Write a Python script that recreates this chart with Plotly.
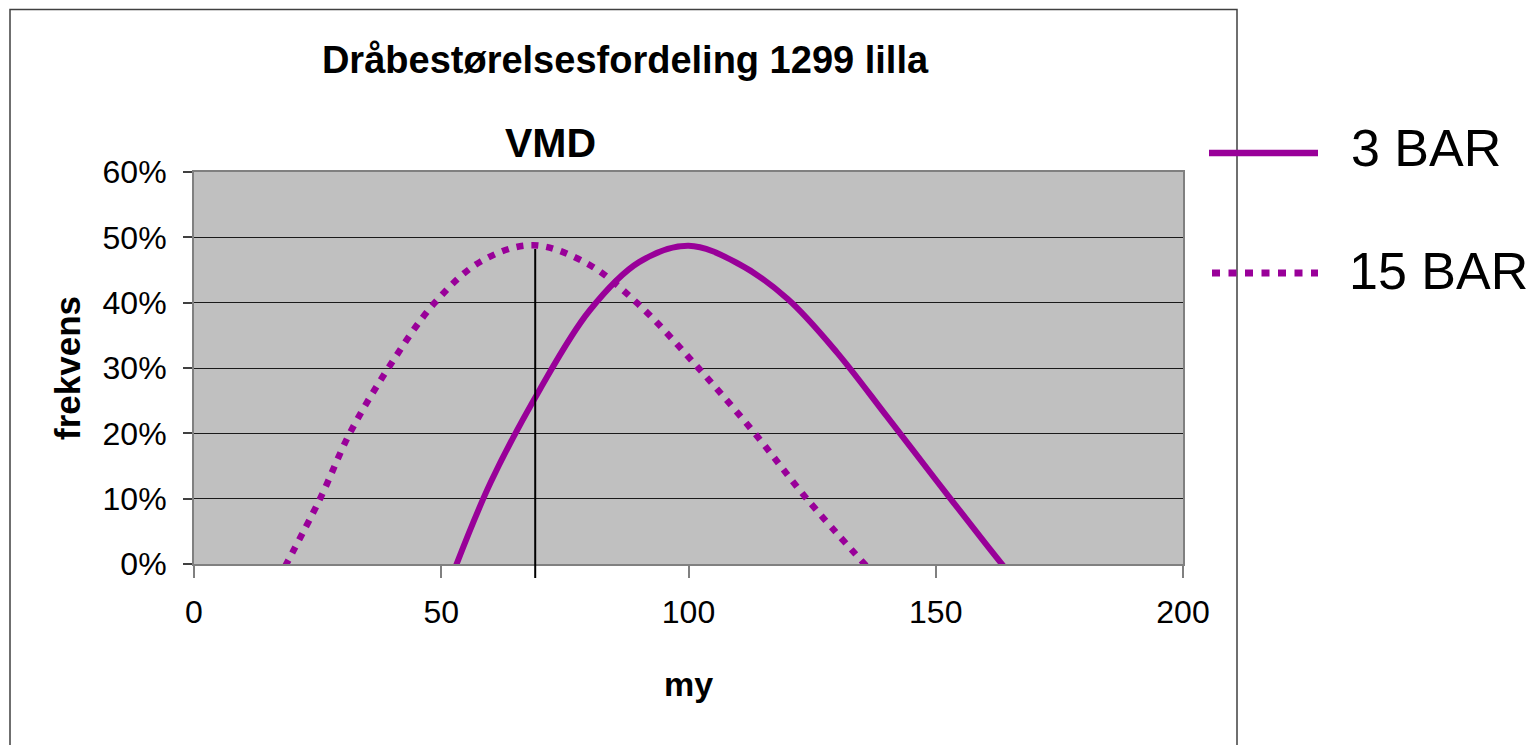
import plotly.graph_objects as go

# ---- data ----
x_3bar = [52.8, 60.0, 70.0, 80.0, 90.0, 100.0, 110.0, 120.0, 130.0, 140.0, 150.0, 160.0, 164.0]
y_3bar = [-0.006, 0.125, 0.268, 0.388, 0.462, 0.487, 0.460, 0.406, 0.324, 0.227, 0.129, 0.032, -0.006]

x_15bar = [18.4, 25.5, 31.5, 39.3, 48.7, 58.0, 68.5, 79.7, 89.8, 102.0, 113.4, 123.9, 136.3]
y_15bar = [-0.004, 0.10, 0.20, 0.30, 0.40, 0.463, 0.488, 0.459, 0.398, 0.30, 0.20, 0.10, -0.006]

vmd_x = 69.0
vmd_top = 0.482

series_names = ["3 BAR", "15 BAR"]
x_ticks = [0, 50, 100, 150, 200]
y_ticks = [0, 0.1, 0.2, 0.3, 0.4, 0.5, 0.6]

# ---- layout geometry (screen pixels; page body has an 8px margin) ----
OFF = 8
W, H = 1539 - OFF, 745 - OFF
L, R, T, B = 194, 1183, 172, 564   # plot area on screen
PW, PH = R - L, B - T


def px(xs):
    return (xs - L) / PW


def py(ys):
    return (B - ys) / PH


PURPLE = "#990099"
FONT = "Liberation Sans, Arial, sans-serif"

fig = go.Figure()
fig.add_trace(go.Scatter(x=x_3bar, y=y_3bar, mode="lines", name=series_names[0],
                         line=dict(color=PURPLE, width=6, shape="spline", smoothing=1.0),
                         showlegend=False))
fig.add_trace(go.Scatter(x=x_15bar, y=y_15bar, mode="lines", name=series_names[1],
                         line=dict(color=PURPLE, width=6.5, shape="spline", smoothing=1.0, dash="7px,8px"),
                         showlegend=False))
fig.add_trace(go.Scatter(x=[vmd_x, vmd_x], y=[0, vmd_top], mode="lines", name="VMD",
                         line=dict(color="black", width=2), showlegend=False))

shapes = [
    # part of the VMD marker below the axis
    dict(type="line", xref="x", yref="paper", x0=vmd_x, x1=vmd_x, y0=py(578), y1=0,
         line=dict(color="black", width=2)),
    # outer chart frame
    dict(type="rect", xref="paper", yref="paper", x0=px(10), x1=px(1237), y0=py(760), y1=py(9.5),
         line=dict(color="#404040", width=1.5), layer="below"),
    # legend keys
    dict(type="line", xref="paper", yref="paper", x0=px(1209), x1=px(1318), y0=py(153), y1=py(153),
         line=dict(color=PURPLE, width=6.5)),
    dict(type="line", xref="paper", yref="paper", x0=px(1212), x1=px(1318), y0=py(273), y1=py(273),
         line=dict(color=PURPLE, width=7, dash="8px,8.5px")),
]

annotations = [
    dict(text="<b>VMD</b>", xref="x", yref="paper", x=vmd_x, xshift=15, y=py(143),
         showarrow=False, font=dict(family=FONT, size=41, color="black"), yanchor="middle"),
    dict(text=series_names[0], xref="paper", yref="paper", x=px(1349), y=py(148),
         xanchor="left", yanchor="middle", showarrow=False,
         font=dict(family=FONT, size=52, color="black")),
    dict(text=series_names[1], xref="paper", yref="paper", x=px(1347), y=py(271),
         xanchor="left", yanchor="middle", showarrow=False,
         font=dict(family=FONT, size=52, color="black")),
]

fig.update_layout(
    width=W, height=H, autosize=False,
    margin=dict(l=L - OFF, r=W - (R - OFF), t=T - OFF, b=H - (B - OFF), pad=0),
    paper_bgcolor="white", plot_bgcolor="#C0C0C0",
    font=dict(family=FONT, color="black"),
    title=dict(text="<b>Dråbestørelsesfordeling 1299 lilla</b>", x=px(625), xref="paper",
               xanchor="center", y=1 - (60 - OFF) / H, yref="container", yanchor="middle",
               font=dict(family=FONT, size=38, color="black")),
    shapes=shapes, annotations=annotations, showlegend=False,
)

fig.update_xaxes(range=[0, 200], tickvals=x_ticks, ticks="outside", ticklen=12, tickwidth=1.5,
                 tickcolor="#808080", showgrid=False, zeroline=False,
                 showline=True, linecolor="#808080", linewidth=2, mirror=True,
                 tickfont=dict(family=FONT, size=32), ticklabelstandoff=7,
                 title=dict(text="<b>my</b>", font=dict(family=FONT, size=34), standoff=43))
fig.update_yaxes(range=[0, 0.6], tickvals=y_ticks, tickformat=".0%", ticks="outside", ticklen=9,
                 tickwidth=1.5, tickcolor="#404040", showgrid=True, gridcolor="#1a1a1a", gridwidth=1,
                 zeroline=False, showline=True, linecolor="#808080", linewidth=2, mirror=True,
                 tickfont=dict(family=FONT, size=32), ticklabelstandoff=10,
                 title=dict(text="<b>frekvens</b>", font=dict(family=FONT, size=35), standoff=11))

fig.write_html("out.html")
